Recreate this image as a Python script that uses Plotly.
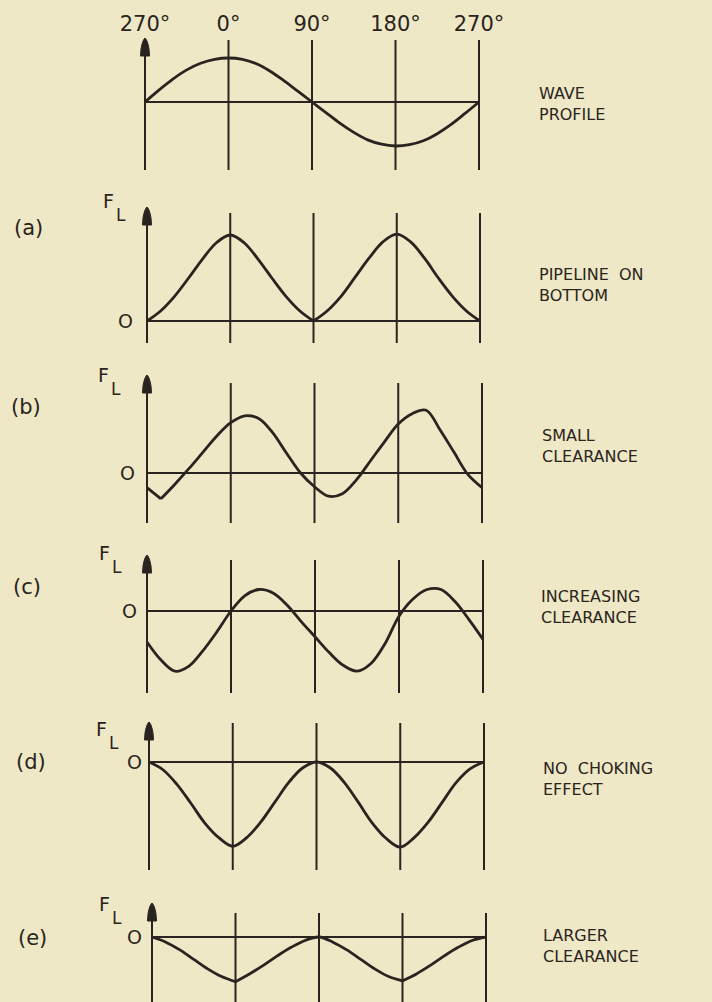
import plotly.graph_objects as go

# ---------------------------------------------------------------- data
phase_deg = list(range(-90, 271, 15))          # wave phase, 270° ... 270°

tick_phase = [-90, 0, 90, 180, 270]
tick_text = ["270°", "0°", "90°", "180°", "270°"]

# surface elevation, fraction of wave amplitude
wave_profile = [0.0, 0.27, 0.52, 0.73, 0.88, 0.97, 1.0, 0.97, 0.87, 0.70, 0.48, 0.24, 0.0,
                -0.24, -0.48, -0.69, -0.86, -0.96, -1.0, -0.97, -0.88, -0.72, -0.51, -0.26, 0.0]

# lift force F_L, fraction of the on-bottom peak
lift_on_bottom = [0.0, 0.12, 0.29, 0.50, 0.72, 0.91, 1.00, 0.91, 0.72, 0.50, 0.29, 0.12, 0.0,
                  0.12, 0.29, 0.51, 0.73, 0.92, 1.01, 0.92, 0.73, 0.50, 0.29, 0.12, 0.0]
lift_small_gap = [-0.17, -0.30, -0.13, 0.05, 0.24, 0.43, 0.585, 0.665, 0.635, 0.47, 0.23, 0.0, -0.16,
                  -0.27, -0.24, -0.08, 0.14, 0.36, 0.57, 0.69, 0.73, 0.50, 0.24, -0.02, -0.17]
lift_increasing_gap = [-0.36, -0.57, -0.70, -0.64, -0.46, -0.24, 0.0, 0.18, 0.25, 0.21, 0.07, -0.12, -0.30,
                       -0.48, -0.63, -0.70, -0.61, -0.38, -0.06, 0.14, 0.25, 0.25, 0.11, -0.10, -0.33]
lift_no_choking = [0.0, -0.09, -0.26, -0.48, -0.71, -0.88, -0.98, -0.88, -0.70, -0.47, -0.24, -0.07, 0.0,
                   -0.07, -0.24, -0.47, -0.71, -0.89, -0.99, -0.88, -0.70, -0.47, -0.24, -0.08, 0.0]
lift_larger_gap = [0.0, -0.06, -0.15, -0.26, -0.37, -0.46, -0.52, -0.43, -0.33, -0.22, -0.12, -0.04, 0.0,
                   -0.06, -0.15, -0.26, -0.37, -0.46, -0.51, -0.43, -0.33, -0.22, -0.12, -0.04, 0.0]

panel_letters = ["", "(a)", "(b)", "(c)", "(d)", "(e)"]
captions = ["WAVE<br>PROFILE", "PIPELINE  ON<br>BOTTOM", "SMALL<br>CLEARANCE",
            "INCREASING<br>CLEARANCE", "NO  CHOKING<br>EFFECT", "LARGER<br>CLEARANCE"]

# ---------------------------------------------------------------- layout of the strips (pixels)
W, H = 712, 1002
INK = "#2a2420"
PAPER = "#eee8c6"
FONT = "DejaVu Sans"
PAD_X, PAD_Y = 8, 4          # room around each strip so edge strokes are not clipped

strips = [
    dict(y=wave_profile, px_per_unit=44, left=145, right=479, tip=38, top=40, base=102, bottom=170,
         corners=[], letter_xy=None, f_xy=None, zero_gap=0, cap_xy=(537, 104)),
    dict(y=lift_on_bottom, px_per_unit=86, left=147, right=480, tip=207, top=213, base=321, bottom=343,
         corners=[90], letter_xy=(28, 228), f_xy=(108, 201), zero_gap=14, cap_xy=(537, 285)),
    dict(y=lift_small_gap, px_per_unit=86, left=147, right=482, tip=375, top=383, base=473, bottom=523,
         corners=[-75], letter_xy=(26, 407), f_xy=(103, 375), zero_gap=12, cap_xy=(540, 446)),
    dict(y=lift_increasing_gap, px_per_unit=86, left=147, right=483, tip=555, top=560, base=611, bottom=693,
         corners=[], letter_xy=(27, 587), f_xy=(104, 553), zero_gap=10, cap_xy=(539, 607)),
    dict(y=lift_no_choking, px_per_unit=86, left=149, right=484, tip=722, top=723, base=762, bottom=870,
         corners=[], letter_xy=(31, 762), f_xy=(101, 729), zero_gap=7, cap_xy=(541, 779)),
    dict(y=lift_larger_gap, px_per_unit=86, left=152, right=486, tip=903, top=913, base=937, bottom=1002,
         corners=[0, 180], letter_xy=(32, 938), f_xy=(104, 904), zero_gap=10, cap_xy=(541, 946)),
]


def px_x(p):
    return p / W


def px_y(p):
    return 1 - p / H


def split_at(xs, ys, corners):
    """Break the spline at sharp corners so they stay pointed."""
    X, Y = [], []
    for x, v in zip(xs, ys):
        X.append(x)
        Y.append(v)
        if x in corners:
            X += [None, x]
            Y += [None, v]
    return X, Y


def note(text, x, y, size, **kw):
    d = dict(text=text, x=x, y=y, showarrow=False, font=dict(family=FONT, size=size, color=INK))
    d.update(kw)
    return d


fig = go.Figure()
shapes, annotations = [], []
layout = {}

for i, s in enumerate(strips):
    k = "" if i == 0 else str(i + 1)
    xr, yr = "x" + k, "y" + k
    ppu = s["px_per_unit"]
    ppd = (s["right"] - s["left"]) / 360.0
    x_pad = PAD_X / ppd
    y_tip = (s["base"] - s["tip"]) / ppu
    ymax = (s["base"] - s["tip"] + PAD_Y) / ppu
    ymin = -(s["bottom"] - s["base"]) / ppu
    ytop = (s["base"] - s["top"]) / ppu

    X, Y = split_at(phase_deg, s["y"], s["corners"])
    fig.add_trace(go.Scatter(
        x=X, y=Y, mode="lines", connectgaps=False, hoverinfo="skip", showlegend=False,
        line=dict(color=INK, width=2.8, shape="spline", smoothing=1.0),
        xaxis=xr, yaxis=yr))

    xa = dict(domain=[px_x(s["left"] - PAD_X), px_x(s["right"] + PAD_X)],
              range=[-90 - x_pad, 270 + x_pad], anchor=yr,
              showgrid=False, zeroline=False, showline=False, showticklabels=False, ticks="",
              fixedrange=True, automargin=False)
    ya = dict(domain=[max(0.0, px_y(s["bottom"])), px_y(s["tip"] - PAD_Y)], range=[ymin, ymax], anchor=xr,
              showgrid=False, zeroline=False, showline=False, showticklabels=False, ticks="",
              fixedrange=True, automargin=False)
    if i == 0:
        xa.update(showticklabels=True, side="top", tickmode="array", tickvals=tick_phase,
                  ticktext=tick_text, tickfont=dict(family=FONT, size=21, color=INK),
                  ticklabelstandoff=-2)
    layout["xaxis" + k] = xa
    layout["yaxis" + k] = ya

    line = dict(color=INK, width=2)
    # zero line
    shapes.append(dict(type="line", xref=xr, yref=yr, x0=-90, x1=270, y0=0, y1=0, line=line))
    # phase verticals
    for p in tick_phase[1:]:
        shapes.append(dict(type="line", xref=xr, yref=yr, x0=p, x1=p, y0=ymin, y1=ytop, line=line))
    # ordinate with arrowhead
    shapes.append(dict(type="line", xref=xr, yref=yr, x0=-90, x1=-90, y0=ymin, y1=y_tip - 10 / ppu,
                       line=line))
    shapes.append(dict(type="path", xref=xr, yref=yr, xsizemode="pixel", ysizemode="pixel",
                       xanchor=-90, yanchor=y_tip,
                       path="M-4.5,-18 L-4,-11 Q-2.5,-2 0,0 Q2.5,-2 4,-11 L4.5,-18 Z",
                       fillcolor=INK, line=dict(color=INK, width=1)))

    if i > 0:
        # zero mark on the force axis
        annotations.append(note("O", -90, 0, 19, xref=xr, yref=yr, xanchor="right", yanchor="middle",
                                xshift=-(s["zero_gap"] - 2)))
        lx, ly = s["letter_xy"]
        annotations.append(note(panel_letters[i], px_x(lx), px_y(ly), 21, xref="paper", yref="paper",
                                xanchor="center", yanchor="middle"))
        fx, fy = s["f_xy"]
        annotations.append(note("F", px_x(fx), px_y(fy), 19, xref="paper", yref="paper",
                                xanchor="center", yanchor="middle"))
        annotations.append(note("L", px_x(fx + 13), px_y(fy + 14), 17, xref="paper", yref="paper",
                                xanchor="center", yanchor="middle"))
    cx, cy = s["cap_xy"]
    annotations.append(note(captions[i], px_x(cx), px_y(cy), 16, xref="paper", yref="paper",
                            xanchor="left", yanchor="middle", align="left"))

fig.update_layout(
    width=W, height=H, margin=dict(l=0, r=0, t=0, b=0, pad=0, autoexpand=False),
    paper_bgcolor=PAPER, plot_bgcolor=PAPER,
    shapes=shapes, annotations=annotations, showlegend=False,
    **layout)

fig.write_html("out.html", config={"displayModeBar": False})
